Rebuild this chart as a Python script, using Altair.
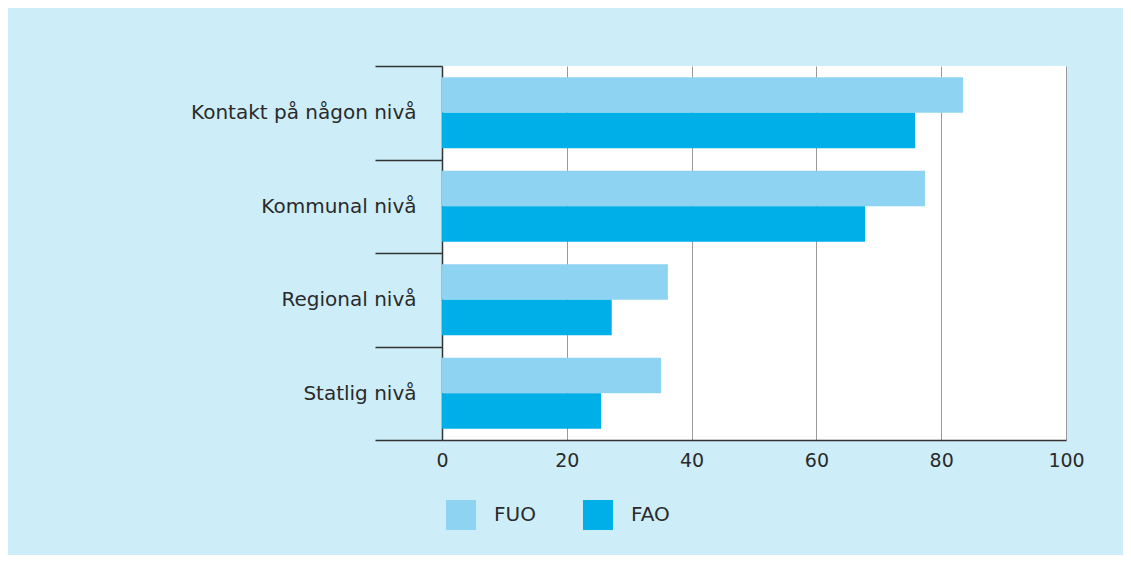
import altair as alt
import pandas as pd

categories = ["Kontakt på någon nivå", "Kommunal nivå", "Regional nivå", "Statlig nivå"]
series = ["FUO", "FAO"]
fuo = [83.5, 77.4, 36.2, 35.1]
fao = [75.8, 67.8, 27.2, 25.5]
x_ticks = [0, 20, 40, 60, 80, 100]
colors = ["#8fd3f2", "#00aee8"]

rows = []
for c, a, b in zip(categories, fuo, fao):
    rows.append({"kategori": c, "grupp": "FUO", "varde": a})
    rows.append({"kategori": c, "grupp": "FAO", "varde": b})
df = pd.DataFrame(rows)

FONT = "DejaVu Sans"
TXT = "#2a2a2a"

chart = alt.Chart(df).mark_bar().encode(
    x=alt.X("varde:Q",
            scale=alt.Scale(domain=[0, 100], nice=False),
            axis=alt.Axis(values=x_ticks, title=None, ticks=False, labelFlush=False,
                          labelPadding=11, labelFontSize=19, labelColor=TXT, labelFont=FONT,
                          domainColor="#333333", domainWidth=1.5,
                          grid=True, gridColor="#999999", gridWidth=1)),
    y=alt.Y("kategori:N", sort=categories,
            scale=alt.Scale(paddingInner=0, paddingOuter=0),
            axis=alt.Axis(title=None, tickBand="extent", tickSize=67, tickColor="#333333",
                          tickWidth=1.5, domainColor="#333333", domainWidth=1.5,
                          labelPadding=-41, labelFontSize=20, labelColor=TXT, labelFont=FONT,
                          labelLimit=400, grid=False)),
    yOffset=alt.YOffset("grupp:N", sort=series,
                        scale=alt.Scale(paddingInner=0, paddingOuter=0.317)),
    color=alt.Color("grupp:N", sort=series,
                    scale=alt.Scale(domain=series, range=colors),
                    legend=alt.Legend(title=None, orient="none", legendX=4, legendY=434,
                                      direction="horizontal", symbolType="square", symbolSize=900,
                                      symbolStrokeWidth=0, labelOffset=18, columnPadding=47,
                                      labelFontSize=20, labelColor=TXT, labelFont=FONT)),
).properties(
    width=624, height=374,
    autosize=alt.AutoSizeParams(type="none"),
    padding={"left": 434, "top": 58, "right": 57, "bottom": 115},
    background="#cdeef9",
).configure_view(
    fill="white", stroke=None
)

chart.save("out.html", embed_options={"renderer": "svg", "actions": False})
